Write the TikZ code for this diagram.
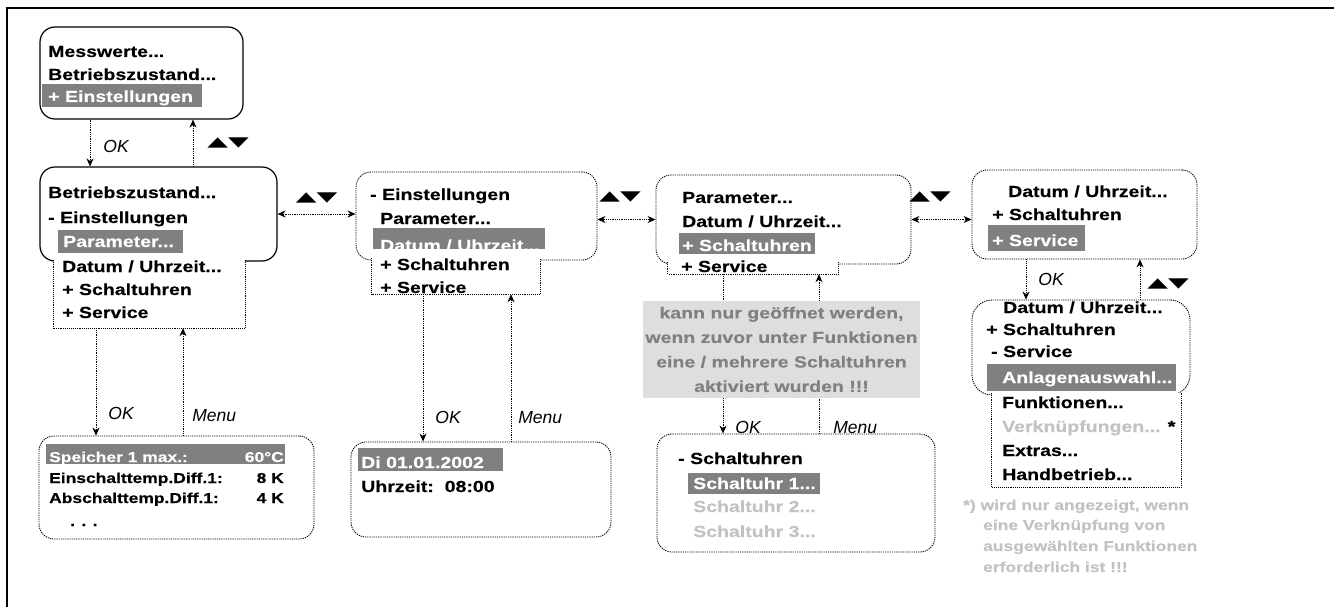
\documentclass[tikz,border=0pt]{standalone}
\usepackage{fontspec}
\setmainfont{Liberation Sans}[FakeStretch=1.22, BoldFeatures={FakeBold=0.3}]
\newfontfamily\marke{Liberation Sans}
\newfontfamily\dejavu{DejaVu Sans}
\usepackage{graphicx}
\usepackage{tikz}
\usetikzlibrary{arrows.meta}
\definecolor{markgrau}{gray}{0.5}
\definecolor{hellgrau}{gray}{0.76}
\definecolor{notizgrau}{gray}{0.87}
\definecolor{notiztext}{gray}{0.5}
\newcommand{\tasten}{\scalebox{2}[1]{▲▼}}

\begin{document}
\begin{tikzpicture}[x=1pt, y=-1pt,
    menue/.style={draw, rounded corners=15pt, line width=1.2pt, inner sep=0pt},
    rand/.style={densely dotted, line width=0.9pt},
    menuep/.style={menue, rand},
    anhang/.style={fill=white, inner sep=0pt},
    zeile/.style={anchor=base west, inner sep=0pt, font=\bfseries\fontsize{16}{18}\selectfont},
    hell/.style={zeile, text=white},
    blass/.style={zeile, text=hellgrau},
    klein/.style={zeile, font=\bfseries\fontsize{14.3}{16}\selectfont},
    fussnote/.style={klein, text=hellgrau},
    pfeil/.style={densely dotted, line width=0.8pt, -{Stealth[length=8pt, width=7pt]}},
    doppel/.style={pfeil, {Stealth[length=8pt, width=7pt]}-{Stealth[length=8pt, width=7pt]}},
    taste/.style={inner sep=0pt, font=\dejavu\fontsize{13.5}{13.5}\selectfont},
    beschr/.style={anchor=west, inner sep=0pt, font=\marke\itshape\fontsize{17.5}{19}\selectfont}]
        \useasboundingbox (0,0) rectangle (1334,607);
        \draw[line width=2.5pt] (7,607) -- (7,8) -- (1334,8);

        % Menu principal
        \node[menue, minimum width=203pt, minimum height=92pt] (b1) at (141.5,73) {};
        \node[zeile] (t11) at (48,57) {Messwerte...};
        \node[zeile] (t12) at (48,80) {Betriebszustand...};
        \fill[markgrau] (42,84) rectangle (202,107);
        \node[hell] (t13) at (48,102) {+ Einstellungen};

        % Einstellungen
        \node[menue, minimum width=237pt, minimum height=94pt] (b2) at (158.5,214) {};
        \node[anhang, minimum width=191pt, minimum height=68pt] (b2u) at (149.5,294) {};
        \draw[rand] (b2u.north west) |- (b2u.south east) -- (b2u.north east);
        \node[zeile] (t21) at (48,198) {Betriebszustand...};
        \node[zeile] (t22) at (48,223) {- Einstellungen};
        \fill[markgrau] (58,230) rectangle (183,253);
        \node[hell] (t23) at (63,247) {Parameter...};
        \node[zeile] (t24) at (62,272) {Datum / Uhrzeit...};
        \node[zeile] (t25) at (62,295) {+ Schaltuhren};
        \node[zeile] (t26) at (62,318) {+ Service};

        % Datum / Uhrzeit
        \node[menuep, minimum width=241pt, minimum height=88pt] (b3) at (476.5,216) {};
        \node[anhang, minimum width=168pt, minimum height=36pt] (b3u) at (456,276) {};
        \draw[rand] (b3u.north west) |- (b3u.south east) -- (b3u.north east);
        \node[zeile] (t31) at (370,200) {- Einstellungen};
        \node[zeile] (t32) at (380,224) {Parameter...};
        \fill[markgrau] (373,228) rectangle (545,249);
        \node[hell] (t33) at (380,251) {Datum / Uhrzeit...};
        \node[zeile] (t34) at (380,270) {+ Schaltuhren};
        \node[zeile] (t35) at (380,293) {+ Service};

        \node[menuep, minimum width=260pt, minimum height=95pt] (b4) at (481,489.5) {};
        \fill[markgrau] (358,448) rectangle (503,471);
        \node[hell] (t41) at (361,468) {Di 01.01.2002};
        \node[zeile] (t42) at (361,492) {Uhrzeit:\ \ 08:00};

        % Parameter
        \node[menuep, minimum width=275pt, minimum height=103pt] (b5) at (176.5,487.5) {};
        \fill[markgrau] (46,444) rectangle (285,464);
        \node[klein, text=white] (t51) at (49,462) {Speicher 1 max.:};
        \node[klein, text=white, anchor=base east] (w51) at (284,462) {60°C};
        \node[klein] (t52) at (49,483) {Einschalttemp.Diff.1:};
        \node[klein, anchor=base east] (w52) at (284,483) {8 K};
        \node[klein] (t53) at (49,503) {Abschalttemp.Diff.1:};
        \node[klein, anchor=base east] (w53) at (284,503) {4 K};
        \node[klein] (t54) at (70,526) {. . .};

        % Schaltuhren
        \node[menuep, minimum width=255pt, minimum height=89pt] (b6) at (783.5,219.5) {};
        \node[anhang, minimum width=170pt, minimum height=12pt] (b6u) at (753,268) {};
        \draw[rand] (b6u.north west) |- (b6u.south east) -- (b6u.north east);
        \node[zeile] (t61) at (682,203) {Parameter...};
        \node[zeile] (t62) at (682,227) {Datum / Uhrzeit...};
        \fill[markgrau] (679,233) rectangle (815,254);
        \node[hell] (t63) at (682,251) {+ Schaltuhren};
        \node[zeile] (t64) at (681,272) {+ Service};

        \node[menuep, minimum width=278pt, minimum height=118pt] (b7) at (796,493) {};
        \node[zeile] (t71) at (678,464) {- Schaltuhren};
        \fill[markgrau, rand] (688,473) rectangle (820,494);
        \node[hell] (t72) at (693,489) {Schaltuhr 1...};
        \node[blass] (t73) at (693,512) {Schaltuhr 2...};
        \node[blass] (t74) at (693,537) {Schaltuhr 3...};

        % Service
        \node[menuep, minimum width=225pt, minimum height=89pt] (b8) at (1084.5,214.5) {};
        \node[zeile] (t81) at (1008,197) {Datum / Uhrzeit...};
        \node[zeile] (t82) at (992,220) {+ Schaltuhren};
        \fill[markgrau] (988,225) rectangle (1085,251);
        \node[hell] (t83) at (992,246) {+ Service};

        \node[menuep, minimum width=218pt, minimum height=95pt, rounded corners=20pt] (b9) at (1081,347.5) {};
        \node[anhang, minimum width=189pt, minimum height=94pt] (b9u) at (1086.5,440) {};
        \draw[rand] (b9u.north west) |- (b9u.south east) -- (b9u.north east);
        \node[zeile] (t91) at (1003,313) {Datum / Uhrzeit...};
        \node[zeile] (t92) at (986,335) {+ Schaltuhren};
        \node[zeile] (t93) at (991,357) {- Service};
        \fill[markgrau] (987,364) rectangle (1176,391);
        \node[hell] (t94) at (1002,383) {Anlagenauswahl...};
        \node[zeile] (t95) at (1002,408) {Funktionen...};
        \node[zeile] (t96) at (1002,432) {\textcolor{hellgrau}{Verknüpfungen...} *};
        \node[zeile] (t97) at (1002,456) {Extras...};
        \node[zeile] (t98) at (1002,480) {Handbetrieb...};

        % Setas
        \draw[pfeil] (b1.south -| 90,0) -- node[beschr, pos=.58, xshift=13pt] (ok1) {OK} (b2.north -| 90,0);
        \draw[pfeil] (b2.north -| 193,0) -- node[taste, anchor=west, pos=.5, xshift=14pt] (ta1) {\tasten} (b1.south -| 193,0);
        \draw[doppel] (b2.east) -- node[taste, above=10pt] (ta2) {\tasten} (b2.east -| b3.west);
        \draw[doppel] (b6.west -| b3.east) -- node[taste, above=17pt, pos=.39] (ta3) {\tasten} (b6.west);
        \draw[doppel] (b6.east) -- node[taste, above=17pt, pos=.31] (ta4) {\tasten} (b6.east -| b8.west);

        \draw[pfeil] (b2u.south -| 96,0) -- node[beschr, pos=.79, xshift=12pt] (ok2) {OK} (b5.north -| 96,0);
        \draw[pfeil] (b5.north -| 183,0) -- node[beschr, pos=.19, xshift=9pt] (me1) {Menu} (b2u.south -| 183,0);
        \draw[pfeil] (b3u.south -| 423,0) -- node[beschr, pos=.84, xshift=12pt] (ok3) {OK} (b4.north -| 423,0);
        \draw[pfeil] (b4.north -| 511,0) -- node[beschr, pos=.16, xshift=7pt] (me2) {Menu} (b3u.south -| 511,0);
        \draw[pfeil] (b6u.south -| 723,0) -- node[beschr, pos=.96, xshift=12pt] (ok4) {OK} (b7.north -| 723,0);
        \draw[pfeil] (b7.north -| 819,0) -- node[beschr, pos=.04, xshift=14pt] (me3) {Menu} (b6u.south -| 819,0);
        \draw[pfeil] (b8.south -| 1026,0) -- node[beschr, pos=.5, xshift=12pt] (ok5) {OK} (b9.north -| 1026,0);
        \draw[pfeil] (b9.north -| 1140,0) -- node[taste, anchor=west, pos=.4, xshift=7pt] (ta5) {\tasten} (b8.south -| 1140,0);

        % Notas
        \node[fill=notizgrau, text=notiztext, inner sep=0pt, align=center,
              minimum width=277pt, minimum height=97pt,
              font=\bfseries\fontsize{16}{24.5}\selectfont] (hw) at (781.5,349.5)
              {kann nur geöffnet werden,\\wenn zuvor unter Funktionen\\eine / mehrere Schaltuhren\\aktiviert wurden !!!};
        \node[fussnote] (f1) at (963,510) {*) wird nur angezeigt, wenn};
        \node[fussnote] (f2) at (983,530) {eine Verknüpfung von};
        \node[fussnote] (f3) at (983,551) {ausgewählten Funktionen};
        \node[fussnote] (f4) at (983,572) {erforderlich ist !!!};
    \end{tikzpicture}
\end{document}
